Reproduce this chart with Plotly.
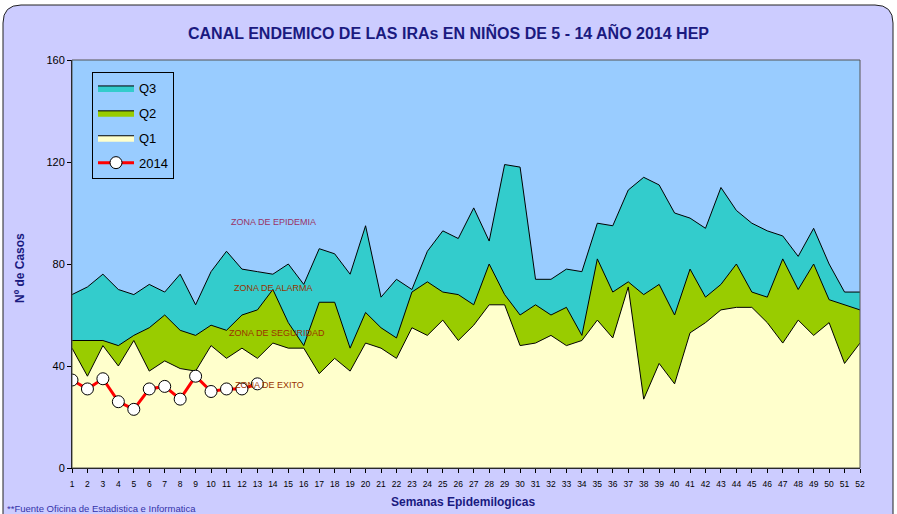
import plotly.graph_objects as go

weeks = list(range(1, 53))
q1 = [47, 36, 48, 40, 50, 38, 42, 39, 38, 48, 43, 47, 43, 49, 47, 47, 37, 43, 38, 49,
      47, 43, 55, 52, 58, 50, 56, 64, 64, 48, 49, 52, 48, 50, 58, 51, 71, 27, 41, 33,
      53, 57, 62, 63, 63, 57, 49, 58, 52, 57, 41, 49]
q2 = [50, 50, 50, 48, 52, 55, 60, 54, 52, 56, 54, 60, 62, 70, 57, 48, 65, 65, 47, 61,
      55, 51, 69, 73, 69, 68, 64, 80, 68, 60, 64, 60, 63, 52, 82, 69, 73, 68, 72, 60,
      78, 67, 72, 80, 69, 67, 82, 70, 80, 66, 64, 62]
q3 = [68, 71, 76, 70, 68, 72, 69, 76, 64, 77, 85, 78, 77, 76, 80, 72, 86, 84, 76, 95,
      67, 74, 70, 85, 93, 90, 102, 89, 119, 118, 74, 74, 78, 77, 96, 95, 109, 114, 111, 100,
      98, 94, 110, 101, 96, 93, 91, 83, 94, 80, 69, 69]
weeks_2014 = list(range(1, 14))
y2014 = [34.5, 31, 35, 26, 23, 31, 32, 27, 36, 30, 31, 31, 33]

y_ticks = [0, 40, 80, 120, 160]

NAVY = "#1A1A80"
NARROW = "Liberation Sans Narrow, Arial Narrow, Liberation Sans"
fig = go.Figure()

for name, vals, col in [("Q3", q3, "#33CCCC"), ("Q2", q2, "#99CC00"), ("Q1", q1, "#FFFFCC")]:
    fig.add_trace(go.Scatter(x=weeks, y=vals, name=name, mode="lines", fill="tozeroy",
                             fillcolor=col, line=dict(color="black", width=1),
                             legendgroup=name))

fig.add_trace(go.Scatter(x=weeks_2014, y=y2014, name="2014", mode="lines+markers",
                         line=dict(color="#FF0000", width=3),
                         marker=dict(symbol="circle", size=12, color="white",
                                     line=dict(color="black", width=1)),
                         legendgroup="2014"))

L, R, T, B = 72, 37, 60, 46
W, H = 897, 514
pw, ph = W - L - R, H - T - B

def px(x):
    return (x - L) / pw

def py(y):
    return (H - B - y) / ph

# rounded outer frame
x0, x1, y0, y1, r = 3, 893, 5, 530, 18
path = (f"M {px(x0)},{py(y0 + r)} Q {px(x0)},{py(y0)} {px(x0 + r)},{py(y0)} "
        f"L {px(x1 - r)},{py(y0)} Q {px(x1)},{py(y0)} {px(x1)},{py(y0 + r)} "
        f"L {px(x1)},{py(y1)} L {px(x0)},{py(y1)} Z")

fig.update_layout(
    width=W, height=H,
    margin=dict(l=L, r=R, t=T, b=B),
    paper_bgcolor="white",
    plot_bgcolor="#99CCFF",
    font=dict(family="Liberation Sans, Arial, sans-serif", color="black"),
    shapes=[
        dict(type="path", path=path, xref="paper", yref="paper",
             fillcolor="#CCCCFF", line=dict(color="#222222", width=1), layer="below"),
        dict(type="rect", xref="paper", yref="paper", x0=0, x1=1, y0=0, y1=1,
             fillcolor="#99CCFF", line=dict(width=0), layer="below"),
    ],
    title=dict(text="<b>CANAL ENDEMICO DE LAS IRAs EN NIÑOS DE 5 - 14 AÑO 2014 HEP</b>",
               x=0.5, xref="container", y=1 - 33 / H, yref="container",
               xanchor="center", yanchor="middle",
               font=dict(size=16, color=NAVY, family="Liberation Sans, Arial")),
    showlegend=True,
    legend=dict(x=px(92), y=py(72), xanchor="left", yanchor="top",
                bgcolor="#99CCFF", bordercolor="black", borderwidth=1,
                font=dict(size=13, color="black"), traceorder="grouped",
                tracegroupgap=5, itemwidth=36),
    xaxis=dict(range=[1, 52], tickmode="array", tickvals=weeks,
               ticktext=[str(w) for w in weeks], ticks="outside", ticklen=4,
               tickcolor="black", showline=True, linecolor="black", linewidth=1,
               mirror=False, showgrid=False, zeroline=False, ticklabelstandoff=4,
               tickfont=dict(size=8.5, family=NARROW)),
    yaxis=dict(range=[0, 160], tickmode="array", tickvals=y_ticks,
               ticks="outside", ticklen=4, tickcolor="black",
               showline=True, linecolor="black", linewidth=1,
               showgrid=False, zeroline=False, tickfont=dict(size=11)),
    annotations=[
        dict(text="<b>Nº de Casos</b>", x=px(20), y=py(268), xref="paper", yref="paper",
             xanchor="center", yanchor="middle",
             textangle=-90, showarrow=False, font=dict(size=12, color=NAVY)),
        dict(text="<b>Semanas Epidemilogicas</b>", x=px(463), y=py(502), xref="paper",
             yref="paper", xanchor="center", yanchor="middle", showarrow=False,
             font=dict(size=12, color=NAVY, family=NARROW)),
        dict(text="**Fuente Oficina de Estadistica e Informatica", x=px(5), y=py(508),
             xref="paper", yref="paper", xanchor="left", yanchor="middle", showarrow=False,
             font=dict(size=9.5, color="#3333AA", family=NARROW)),
        dict(text="ZONA DE EPIDEMIA", x=11.16, y=96.5, xanchor="left", yanchor="middle",
             showarrow=False, font=dict(size=9, color="#993366")),
        dict(text="ZONA DE ALARMA", x=11.36, y=70.6, xanchor="left", yanchor="middle",
             showarrow=False, font=dict(size=9, color="#993300")),
        dict(text="ZONA DE SEGURIDAD", x=11.03, y=52.9, xanchor="left", yanchor="middle",
             showarrow=False, font=dict(size=9, color="#993300")),
        dict(text="ZONA DE EXITO", x=11.4, y=32.5, xanchor="left", yanchor="middle",
             showarrow=False, font=dict(size=9, color="#993300")),
    ],
)

# plot-area border
fig.add_shape(type="rect", xref="paper", yref="paper", x0=0, x1=1, y0=0, y1=1,
              line=dict(color="#555555", width=1), fillcolor="rgba(0,0,0,0)", layer="above")

fig.write_html("out.html", config={"displayModeBar": False},
               post_script="document.body.style.margin='0';document.body.style.padding='0';")
